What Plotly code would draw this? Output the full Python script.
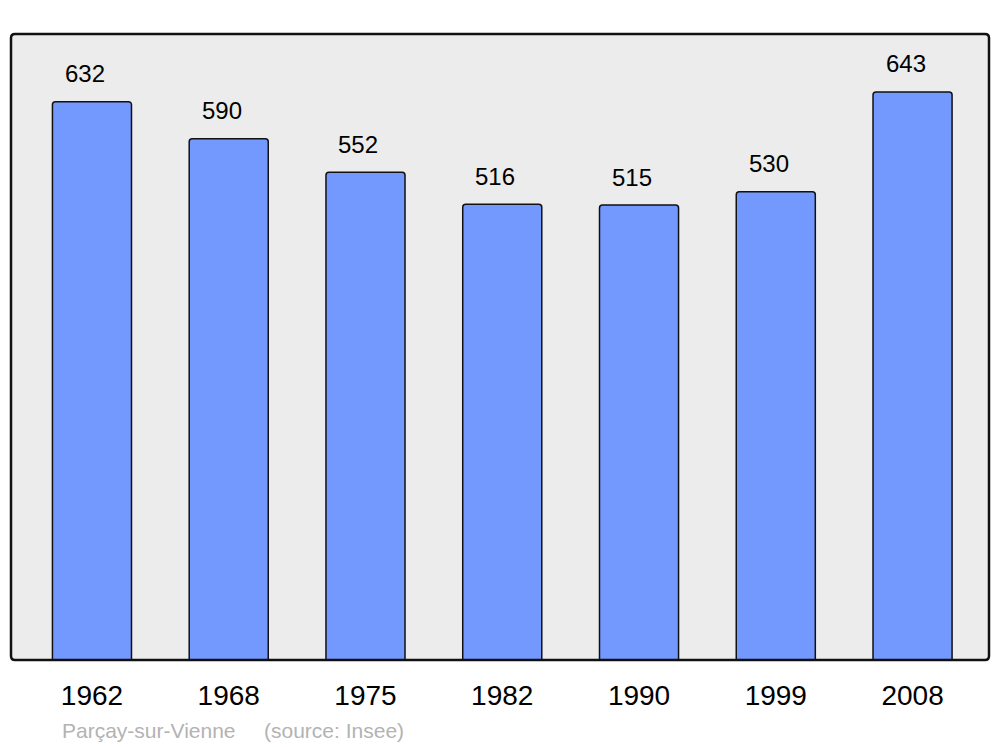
import plotly.graph_objects as go

years = ["1962", "1968", "1975", "1982", "1990", "1999", "2008"]
population = [632, 590, 552, 516, 515, 530, 643]
commune = "Parçay-sur-Vienne"
source = "(source: Insee)"

BAR_COLOR = "#7399ff"
BG_COLOR = "#ececec"
FONT = "Liberation Sans, Arial, sans-serif"

fig = go.Figure()
fig.add_bar(x=years, y=population, width=0.578,
            marker=dict(color=BAR_COLOR, cornerradius=3,
                        line=dict(color="#111111", width=1.5)),
            hoverinfo="x+y")

# étiquettes de valeur (x = index de catégorie)
for i, val in enumerate(population):
    fig.add_annotation(x=i, y=val, text=str(val), showarrow=False,
                       xshift=-7, yshift=28, yanchor="middle",
                       font=dict(size=24, color="black", family=FONT))

# cadre arrondi autour de la zone de tracé
rx, ry = 4 / 978, 4 / 626
frame = (f"M {rx},0 L {1 - rx},0 Q 1,0 1,{ry} L 1,{1 - ry} Q 1,1 {1 - rx},1 "
         f"L {rx},1 Q 0,1 0,{1 - ry} L 0,{ry} Q 0,0 {rx},0 Z")
fig.add_shape(type="path", xref="paper", yref="paper", path=frame,
              line=dict(color="#111111", width=2.5), layer="above")

fig.add_annotation(x=(60 - 11) / 978, y=-0.112, xref="paper", yref="paper",
                   text=commune, showarrow=False, xanchor="left", yanchor="middle",
                   font=dict(size=21, color="#b3b3b3", family=FONT))
fig.add_annotation(x=(262 - 11) / 978, y=-0.112, xref="paper", yref="paper",
                   text=source, showarrow=False, xanchor="left", yanchor="middle",
                   font=dict(size=21, color="#b3b3b3", family=FONT))

fig.update_layout(
    width=1000, height=747,
    margin=dict(l=11, r=11, t=34, b=87),
    paper_bgcolor="white", plot_bgcolor=BG_COLOR,
    showlegend=False,
    font=dict(family=FONT, color="black"),
    xaxis=dict(type="category", range=[-0.592, 6.559], showgrid=False,
               zeroline=False, showline=False, ticks="",
               tickfont=dict(size=28, family=FONT, color="black"),
               ticklabelstandoff=16),
    yaxis=dict(range=[0, 708.6], showgrid=False, zeroline=False,
               showline=False, showticklabels=False, ticks=""),
)

fig.write_html("out.html", config={"displayModeBar": False},
               post_script="document.body.style.margin='0';document.body.style.overflow='hidden';")
